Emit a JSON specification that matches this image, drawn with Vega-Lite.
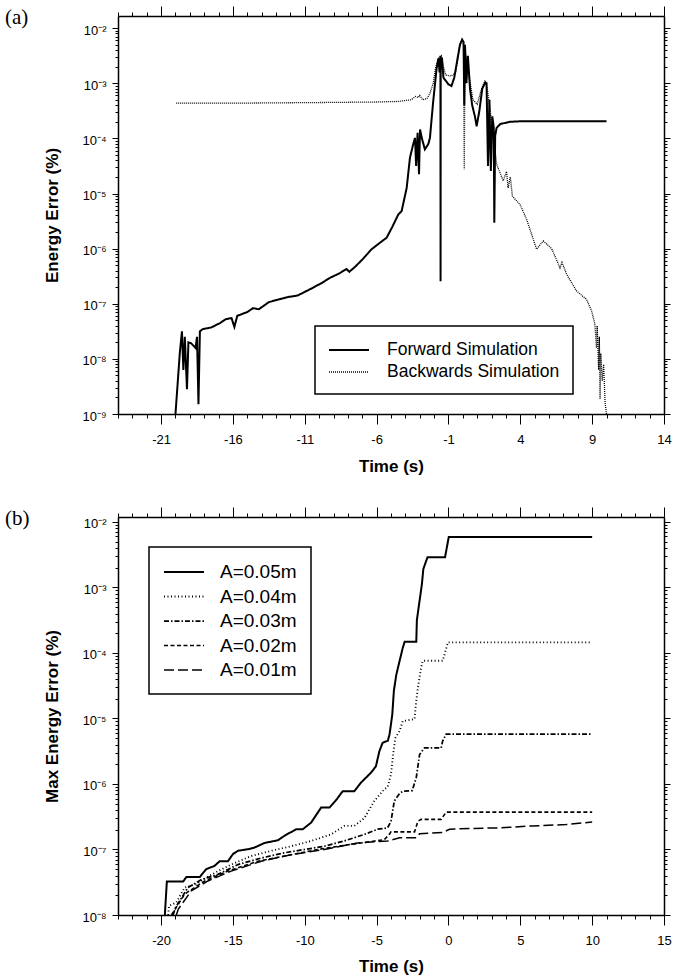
{
  "$schema": "https://vega.github.io/schema/vega-lite/v6.json",
  "background": "white",
  "padding": {"left": 5, "top": 5, "right": 5, "bottom": 5},
  "spacing": 103,
  "bounds": "flush",
  "resolve": {"scale": {"strokeDash": "independent", "strokeWidth": "independent"}, "legend": {"strokeDash": "independent", "strokeWidth": "independent"}},
  "config": {
    "view": {"stroke": null},
    "font": "Liberation Sans",
    "axis": {"domainColor": "black", "domainWidth": 1.5, "tickColor": "black", "tickWidth": 1, "labelColor": "black", "titleColor": "black", "grid": false, "labelFont": "Liberation Sans", "titleFont": "Liberation Sans", "labelOverlap": false, "labelFlush": false, "labelBound": false},
    "legend": {"strokeWidth": 1.5}
  },
  "vconcat": [
    {
      "width": 546,
      "height": 398,
      "title": {"text": "(a)", "anchor": "start", "frame": "group", "font": "Liberation Serif", "fontSize": 21, "fontWeight": "normal", "color": "black", "dx": -113, "dy": 22, "offset": 0},
      "data": {"values": [
        {"t": -20.0, "e": 1e-9, "s": "Forward Simulation"},
        {"t": -19.7, "e": 1.26e-8, "s": "Forward Simulation"},
        {"t": -19.55, "e": 3.16e-8, "s": "Forward Simulation"},
        {"t": -19.45, "e": 6.31e-9, "s": "Forward Simulation"},
        {"t": -19.35, "e": 2.51e-8, "s": "Forward Simulation"},
        {"t": -19.2, "e": 2.82e-9, "s": "Forward Simulation"},
        {"t": -19.1, "e": 2.0e-8, "s": "Forward Simulation"},
        {"t": -18.9, "e": 1.91e-8, "s": "Forward Simulation"},
        {"t": -18.6, "e": 1.58e-8, "s": "Forward Simulation"},
        {"t": -18.5, "e": 2.51e-8, "s": "Forward Simulation"},
        {"t": -18.4, "e": 1.51e-9, "s": "Forward Simulation"},
        {"t": -18.3, "e": 3.16e-8, "s": "Forward Simulation"},
        {"t": -18.1, "e": 3.47e-8, "s": "Forward Simulation"},
        {"t": -17.5, "e": 3.72e-8, "s": "Forward Simulation"},
        {"t": -16.9, "e": 4.47e-8, "s": "Forward Simulation"},
        {"t": -16.5, "e": 5.25e-8, "s": "Forward Simulation"},
        {"t": -16.1, "e": 5.5e-8, "s": "Forward Simulation"},
        {"t": -15.9, "e": 3.8e-8, "s": "Forward Simulation"},
        {"t": -15.7, "e": 6.03e-8, "s": "Forward Simulation"},
        {"t": -15.0, "e": 7.08e-8, "s": "Forward Simulation"},
        {"t": -14.6, "e": 8.32e-8, "s": "Forward Simulation"},
        {"t": -14.2, "e": 7.94e-8, "s": "Forward Simulation"},
        {"t": -13.5, "e": 1.07e-7, "s": "Forward Simulation"},
        {"t": -12.8, "e": 1.2e-7, "s": "Forward Simulation"},
        {"t": -12.2, "e": 1.32e-7, "s": "Forward Simulation"},
        {"t": -11.5, "e": 1.41e-7, "s": "Forward Simulation"},
        {"t": -10.5, "e": 1.91e-7, "s": "Forward Simulation"},
        {"t": -9.8, "e": 2.4e-7, "s": "Forward Simulation"},
        {"t": -9.25, "e": 2.95e-7, "s": "Forward Simulation"},
        {"t": -8.6, "e": 3.55e-7, "s": "Forward Simulation"},
        {"t": -8.1, "e": 4.27e-7, "s": "Forward Simulation"},
        {"t": -7.9, "e": 3.8e-7, "s": "Forward Simulation"},
        {"t": -7.5, "e": 4.68e-7, "s": "Forward Simulation"},
        {"t": -7.0, "e": 6.31e-7, "s": "Forward Simulation"},
        {"t": -6.35, "e": 9.77e-7, "s": "Forward Simulation"},
        {"t": -5.7, "e": 1.32e-6, "s": "Forward Simulation"},
        {"t": -5.3, "e": 1.58e-6, "s": "Forward Simulation"},
        {"t": -4.9, "e": 2.51e-6, "s": "Forward Simulation"},
        {"t": -4.49, "e": 4.17e-6, "s": "Forward Simulation"},
        {"t": -4.26, "e": 4.79e-6, "s": "Forward Simulation"},
        {"t": -3.91, "e": 1.26e-5, "s": "Forward Simulation"},
        {"t": -3.68, "e": 4.47e-5, "s": "Forward Simulation"},
        {"t": -3.45, "e": 7.94e-5, "s": "Forward Simulation"},
        {"t": -3.33, "e": 1.02e-4, "s": "Forward Simulation"},
        {"t": -3.25, "e": 3.16e-5, "s": "Forward Simulation"},
        {"t": -3.15, "e": 1.26e-4, "s": "Forward Simulation"},
        {"t": -3.05, "e": 2.24e-5, "s": "Forward Simulation"},
        {"t": -2.98, "e": 1.45e-4, "s": "Forward Simulation"},
        {"t": -2.85, "e": 1e-4, "s": "Forward Simulation"},
        {"t": -2.64, "e": 6.31e-5, "s": "Forward Simulation"},
        {"t": -2.4, "e": 7.94e-5, "s": "Forward Simulation"},
        {"t": -2.29, "e": 1.02e-4, "s": "Forward Simulation"},
        {"t": -2.06, "e": 4.79e-4, "s": "Forward Simulation"},
        {"t": -1.82, "e": 1.91e-3, "s": "Forward Simulation"},
        {"t": -1.7, "e": 2.82e-3, "s": "Forward Simulation"},
        {"t": -1.62, "e": 1.58e-3, "s": "Forward Simulation"},
        {"t": -1.56, "e": 3.16e-3, "s": "Forward Simulation"},
        {"t": -1.55, "e": 2.57e-7, "s": "Forward Simulation"},
        {"t": -1.54, "e": 2.82e-3, "s": "Forward Simulation"},
        {"t": -1.45, "e": 2.82e-3, "s": "Forward Simulation"},
        {"t": -1.35, "e": 1.26e-3, "s": "Forward Simulation"},
        {"t": -1.2, "e": 1.12e-3, "s": "Forward Simulation"},
        {"t": -1.0, "e": 9.55e-4, "s": "Forward Simulation"},
        {"t": -0.79, "e": 8.91e-4, "s": "Forward Simulation"},
        {"t": -0.6, "e": 1.26e-3, "s": "Forward Simulation"},
        {"t": -0.4, "e": 2.51e-3, "s": "Forward Simulation"},
        {"t": -0.2, "e": 5.01e-3, "s": "Forward Simulation"},
        {"t": -0.05, "e": 6.17e-3, "s": "Forward Simulation"},
        {"t": 0.05, "e": 5.62e-3, "s": "Forward Simulation"},
        {"t": 0.1, "e": 3.98e-4, "s": "Forward Simulation"},
        {"t": 0.15, "e": 5.01e-3, "s": "Forward Simulation"},
        {"t": 0.25, "e": 1e-3, "s": "Forward Simulation"},
        {"t": 0.35, "e": 3.16e-3, "s": "Forward Simulation"},
        {"t": 0.5, "e": 7.94e-4, "s": "Forward Simulation"},
        {"t": 0.65, "e": 3.98e-4, "s": "Forward Simulation"},
        {"t": 0.84, "e": 2.51e-4, "s": "Forward Simulation"},
        {"t": 0.96, "e": 1.66e-4, "s": "Forward Simulation"},
        {"t": 1.15, "e": 3.16e-4, "s": "Forward Simulation"},
        {"t": 1.35, "e": 7.94e-4, "s": "Forward Simulation"},
        {"t": 1.55, "e": 1.02e-3, "s": "Forward Simulation"},
        {"t": 1.65, "e": 1e-3, "s": "Forward Simulation"},
        {"t": 1.75, "e": 3.16e-5, "s": "Forward Simulation"},
        {"t": 1.85, "e": 5.01e-4, "s": "Forward Simulation"},
        {"t": 1.95, "e": 2.57e-5, "s": "Forward Simulation"},
        {"t": 2.05, "e": 2.51e-4, "s": "Forward Simulation"},
        {"t": 2.15, "e": 1.58e-4, "s": "Forward Simulation"},
        {"t": 2.19, "e": 2.95e-6, "s": "Forward Simulation"},
        {"t": 2.25, "e": 1.12e-4, "s": "Forward Simulation"},
        {"t": 2.35, "e": 1.55e-4, "s": "Forward Simulation"},
        {"t": 2.6, "e": 1.82e-4, "s": "Forward Simulation"},
        {"t": 3.28, "e": 2.0e-4, "s": "Forward Simulation"},
        {"t": 4.0, "e": 2.04e-4, "s": "Forward Simulation"},
        {"t": 10.0, "e": 2.04e-4, "s": "Forward Simulation"},
        {"t": -19.95, "e": 4.37e-4, "s": "Backwards Simulation"},
        {"t": -15.0, "e": 4.37e-4, "s": "Backwards Simulation"},
        {"t": -10.0, "e": 4.47e-4, "s": "Backwards Simulation"},
        {"t": -6.0, "e": 4.57e-4, "s": "Backwards Simulation"},
        {"t": -4.5, "e": 4.68e-4, "s": "Backwards Simulation"},
        {"t": -3.6, "e": 5.01e-4, "s": "Backwards Simulation"},
        {"t": -3.3, "e": 5.75e-4, "s": "Backwards Simulation"},
        {"t": -3.1, "e": 5.5e-4, "s": "Backwards Simulation"},
        {"t": -3.0, "e": 6.03e-4, "s": "Backwards Simulation"},
        {"t": -2.8, "e": 5.01e-4, "s": "Backwards Simulation"},
        {"t": -2.5, "e": 5.25e-4, "s": "Backwards Simulation"},
        {"t": -2.29, "e": 6.61e-4, "s": "Backwards Simulation"},
        {"t": -2.06, "e": 1e-3, "s": "Backwards Simulation"},
        {"t": -1.9, "e": 1.91e-3, "s": "Backwards Simulation"},
        {"t": -1.7, "e": 2.82e-3, "s": "Backwards Simulation"},
        {"t": -1.5, "e": 3.16e-3, "s": "Backwards Simulation"},
        {"t": -1.35, "e": 2.0e-3, "s": "Backwards Simulation"},
        {"t": -1.2, "e": 1.41e-3, "s": "Backwards Simulation"},
        {"t": -0.8, "e": 1.35e-3, "s": "Backwards Simulation"},
        {"t": -0.5, "e": 1.58e-3, "s": "Backwards Simulation"},
        {"t": -0.2, "e": 5.01e-3, "s": "Backwards Simulation"},
        {"t": -0.05, "e": 6.17e-3, "s": "Backwards Simulation"},
        {"t": 0.05, "e": 5.01e-3, "s": "Backwards Simulation"},
        {"t": 0.1, "e": 2.75e-5, "s": "Backwards Simulation"},
        {"t": 0.15, "e": 3.98e-3, "s": "Backwards Simulation"},
        {"t": 0.4, "e": 1.58e-3, "s": "Backwards Simulation"},
        {"t": 0.7, "e": 5.01e-4, "s": "Backwards Simulation"},
        {"t": 1.0, "e": 4.17e-4, "s": "Backwards Simulation"},
        {"t": 1.3, "e": 7.94e-4, "s": "Backwards Simulation"},
        {"t": 1.55, "e": 1.12e-3, "s": "Backwards Simulation"},
        {"t": 1.7, "e": 7.94e-4, "s": "Backwards Simulation"},
        {"t": 1.9, "e": 3.16e-4, "s": "Backwards Simulation"},
        {"t": 2.1, "e": 1.26e-4, "s": "Backwards Simulation"},
        {"t": 2.35, "e": 3.39e-5, "s": "Backwards Simulation"},
        {"t": 2.81, "e": 1.7e-5, "s": "Backwards Simulation"},
        {"t": 3.04, "e": 2.51e-5, "s": "Backwards Simulation"},
        {"t": 3.15, "e": 1.26e-5, "s": "Backwards Simulation"},
        {"t": 3.3, "e": 2.0e-5, "s": "Backwards Simulation"},
        {"t": 3.45, "e": 8.91e-6, "s": "Backwards Simulation"},
        {"t": 3.98, "e": 6.31e-6, "s": "Backwards Simulation"},
        {"t": 4.44, "e": 3.39e-6, "s": "Backwards Simulation"},
        {"t": 5.13, "e": 9.77e-7, "s": "Backwards Simulation"},
        {"t": 5.6, "e": 1.38e-6, "s": "Backwards Simulation"},
        {"t": 6.18, "e": 1e-6, "s": "Backwards Simulation"},
        {"t": 6.6, "e": 5.62e-7, "s": "Backwards Simulation"},
        {"t": 6.76, "e": 4.47e-7, "s": "Backwards Simulation"},
        {"t": 6.9, "e": 5.62e-7, "s": "Backwards Simulation"},
        {"t": 7.23, "e": 3.39e-7, "s": "Backwards Simulation"},
        {"t": 7.92, "e": 1.7e-7, "s": "Backwards Simulation"},
        {"t": 8.61, "e": 1.2e-7, "s": "Backwards Simulation"},
        {"t": 8.96, "e": 7.41e-8, "s": "Backwards Simulation"},
        {"t": 9.19, "e": 4.27e-8, "s": "Backwards Simulation"},
        {"t": 9.3, "e": 1.58e-8, "s": "Backwards Simulation"},
        {"t": 9.35, "e": 3.98e-8, "s": "Backwards Simulation"},
        {"t": 9.45, "e": 6.31e-9, "s": "Backwards Simulation"},
        {"t": 9.5, "e": 2.51e-8, "s": "Backwards Simulation"},
        {"t": 9.55, "e": 1.86e-9, "s": "Backwards Simulation"},
        {"t": 9.6, "e": 1.26e-8, "s": "Backwards Simulation"},
        {"t": 9.7, "e": 3.98e-9, "s": "Backwards Simulation"},
        {"t": 9.8, "e": 7.94e-9, "s": "Backwards Simulation"},
        {"t": 9.9, "e": 1.58e-9, "s": "Backwards Simulation"},
        {"t": 10.0, "e": 1e-9, "s": "Backwards Simulation"}
      ]},
      "layer": [
        {
          "transform": [{"filter": "datum.s == 'Forward Simulation'"}],
          "mark": {"type": "line", "color": "black", "clip": true},
          "encoding": {
            "x": {"field": "t", "type": "quantitative", "scale": {"domain": [-24, 14], "nice": false, "zero": false},
              "axis": {"orient": "bottom", "values": [-24,-23,-22,-21,-20,-19,-18,-17,-16,-15,-14,-13,-12,-11,-10,-9,-8,-7,-6,-5,-4,-3,-2,-1,0,1,2,3,4,5,6,7,8,9,10,11,12,13,14],
                "labelExpr": "(datum.value+21)%5==0 ? ''+datum.value : ''",
                "tickSize": {"condition": {"test": "(datum.value+21)%5==0", "value": 10}, "value": 4},
                "labelFontSize": 13, "labelPadding": 9, "title": "Time (s)", "titleFontSize": 17, "titleFontWeight": "bold", "titlePadding": 12}},
            "y": {"field": "e", "type": "quantitative", "scale": {"type": "log", "domain": [1e-9, 0.0166], "nice": false},
              "axis": {"orient": "left", "values": [1e-9,2e-9,3e-9,4e-9,5e-9,6e-9,7e-9,8e-9,9e-9,1e-8,2e-8,3e-8,4e-8,5e-8,6e-8,7e-8,8e-8,9e-8,1e-7,2e-7,3e-7,4e-7,5e-7,6e-7,7e-7,8e-7,9e-7,1e-6,2e-6,3e-6,4e-6,5e-6,6e-6,7e-6,8e-6,9e-6,1e-5,2e-5,3e-5,4e-5,5e-5,6e-5,7e-5,8e-5,9e-5,1e-4,2e-4,3e-4,4e-4,5e-4,6e-4,7e-4,8e-4,9e-4,1e-3,2e-3,3e-3,4e-3,5e-3,6e-3,7e-3,8e-3,9e-3,1e-2],
                "labelExpr": "abs(log(datum.value)/LN10-round(log(datum.value)/LN10))<0.001 ? '10⁻' + ['⁰','¹','²','³','⁴','⁵','⁶','⁷','⁸','⁹'][-round(log(datum.value)/LN10)] : ''",
                "tickSize": {"condition": {"test": "abs(log(datum.value)/LN10-round(log(datum.value)/LN10))<0.001", "value": 6}, "value": 3},
                "labelFontSize": 13, "labelPadding": 6, "labelOffset": 2, "title": "Energy Error (%)", "titleFontSize": 17, "titleFontWeight": "bold", "titlePadding": 20}},
            "strokeDash": {"field": "s", "type": "nominal", "scale": {"domain": ["Forward Simulation", "Backwards Simulation"], "range": [[1, 0], [1, 1]]},
              "legend": {"orient": "none", "legendX": 197, "legendY": 310, "title": null, "strokeColor": "black", "fillColor": "white", "padding": 13, "symbolType": "M-1,0L3,0", "symbolSize": 400, "symbolStrokeColor": "black", "labelFontSize": 17.5, "labelFont": "Liberation Sans", "labelColor": "black", "labelLimit": 400, "labelOffset": 37, "rowPadding": 2, "labelExpr": "datum.label + '     '"}},
            "strokeWidth": {"field": "s", "type": "nominal", "scale": {"domain": ["Forward Simulation", "Backwards Simulation"], "range": [2, 1.3]},
              "legend": {"orient": "none", "legendX": 197, "legendY": 310, "title": null, "strokeColor": "black", "fillColor": "white", "padding": 13, "symbolType": "M-1,0L3,0", "symbolSize": 400, "symbolStrokeColor": "black", "labelFontSize": 17.5, "labelFont": "Liberation Sans", "labelColor": "black", "labelLimit": 400, "labelOffset": 37, "rowPadding": 2, "labelExpr": "datum.label + '     '"}}
          }
        },
        {
          "transform": [{"filter": "datum.s == 'Backwards Simulation'"}],
          "mark": {"type": "line", "color": "black", "clip": true},
          "encoding": {
            "x": {"field": "t", "type": "quantitative", "scale": {"domain": [-24, 14], "nice": false, "zero": false},
              "axis": {"orient": "top", "values": [-24,-23,-22,-21,-20,-19,-18,-17,-16,-15,-14,-13,-12,-11,-10,-9,-8,-7,-6,-5,-4,-3,-2,-1,0,1,2,3,4,5,6,7,8,9,10,11,12,13,14],
                "labels": false, "title": null,
                "tickSize": {"condition": {"test": "(datum.value+21)%5==0", "value": 10}, "value": 4}}},
            "y": {"field": "e", "type": "quantitative", "scale": {"type": "log", "domain": [1e-9, 0.0166], "nice": false},
              "axis": {"orient": "right", "values": [1e-9,2e-9,3e-9,4e-9,5e-9,6e-9,7e-9,8e-9,9e-9,1e-8,2e-8,3e-8,4e-8,5e-8,6e-8,7e-8,8e-8,9e-8,1e-7,2e-7,3e-7,4e-7,5e-7,6e-7,7e-7,8e-7,9e-7,1e-6,2e-6,3e-6,4e-6,5e-6,6e-6,7e-6,8e-6,9e-6,1e-5,2e-5,3e-5,4e-5,5e-5,6e-5,7e-5,8e-5,9e-5,1e-4,2e-4,3e-4,4e-4,5e-4,6e-4,7e-4,8e-4,9e-4,1e-3,2e-3,3e-3,4e-3,5e-3,6e-3,7e-3,8e-3,9e-3,1e-2],
                "labels": false, "title": null,
                "tickSize": {"condition": {"test": "abs(log(datum.value)/LN10-round(log(datum.value)/LN10))<0.001", "value": 6}, "value": 3}}},
            "strokeDash": {"field": "s", "type": "nominal", "scale": {"domain": ["Forward Simulation", "Backwards Simulation"], "range": [[1, 0], [1, 1]]}},
            "strokeWidth": {"field": "s", "type": "nominal", "scale": {"domain": ["Forward Simulation", "Backwards Simulation"], "range": [2, 1.3]}}
          }
        }
      ],
      "resolve": {"axis": {"x": "independent", "y": "independent"}}
    },
    {
      "width": 546,
      "height": 398,
      "title": {"text": "(b)", "anchor": "start", "frame": "group", "font": "Liberation Serif", "fontSize": 21, "fontWeight": "normal", "color": "black", "dx": -113, "dy": 22, "offset": 0},
      "data": {"values": [
        {"t": -19.74, "e": 1e-8, "s": "A=0.05m"},
        {"t": -19.6, "e": 3.24e-8, "s": "A=0.05m"},
        {"t": -18.47, "e": 3.24e-8, "s": "A=0.05m"},
        {"t": -18.24, "e": 3.8e-8, "s": "A=0.05m"},
        {"t": -17.31, "e": 3.8e-8, "s": "A=0.05m"},
        {"t": -16.86, "e": 5.01e-8, "s": "A=0.05m"},
        {"t": -16.28, "e": 5.62e-8, "s": "A=0.05m"},
        {"t": -15.93, "e": 6.61e-8, "s": "A=0.05m"},
        {"t": -15.35, "e": 6.61e-8, "s": "A=0.05m"},
        {"t": -15.0, "e": 8.51e-8, "s": "A=0.05m"},
        {"t": -14.65, "e": 9.55e-8, "s": "A=0.05m"},
        {"t": -13.84, "e": 1.02e-7, "s": "A=0.05m"},
        {"t": -13.5, "e": 1.07e-7, "s": "A=0.05m"},
        {"t": -12.8, "e": 1.26e-7, "s": "A=0.05m"},
        {"t": -11.88, "e": 1.38e-7, "s": "A=0.05m"},
        {"t": -11.41, "e": 1.62e-7, "s": "A=0.05m"},
        {"t": -10.6, "e": 2.04e-7, "s": "A=0.05m"},
        {"t": -10.14, "e": 2.04e-7, "s": "A=0.05m"},
        {"t": -9.56, "e": 2.57e-7, "s": "A=0.05m"},
        {"t": -8.86, "e": 4.37e-7, "s": "A=0.05m"},
        {"t": -8.28, "e": 4.37e-7, "s": "A=0.05m"},
        {"t": -7.8, "e": 5.75e-7, "s": "A=0.05m"},
        {"t": -7.36, "e": 7.76e-7, "s": "A=0.05m"},
        {"t": -6.55, "e": 7.76e-7, "s": "A=0.05m"},
        {"t": -6.09, "e": 1.05e-6, "s": "A=0.05m"},
        {"t": -5.4, "e": 1.48e-6, "s": "A=0.05m"},
        {"t": -5.05, "e": 1.86e-6, "s": "A=0.05m"},
        {"t": -4.81, "e": 3.16e-6, "s": "A=0.05m"},
        {"t": -4.58, "e": 4.27e-6, "s": "A=0.05m"},
        {"t": -4.22, "e": 4.57e-6, "s": "A=0.05m"},
        {"t": -4.1, "e": 5.75e-6, "s": "A=0.05m"},
        {"t": -3.91, "e": 1.15e-5, "s": "A=0.05m"},
        {"t": -3.8, "e": 2.63e-5, "s": "A=0.05m"},
        {"t": -3.63, "e": 4.68e-5, "s": "A=0.05m"},
        {"t": -3.4, "e": 7.59e-5, "s": "A=0.05m"},
        {"t": -3.18, "e": 1.2e-4, "s": "A=0.05m"},
        {"t": -3.05, "e": 1.48e-4, "s": "A=0.05m"},
        {"t": -2.24, "e": 1.48e-4, "s": "A=0.05m"},
        {"t": -2.2, "e": 3.16e-4, "s": "A=0.05m"},
        {"t": -2.01, "e": 6.31e-4, "s": "A=0.05m"},
        {"t": -1.85, "e": 1.12e-3, "s": "A=0.05m"},
        {"t": -1.75, "e": 1.91e-3, "s": "A=0.05m"},
        {"t": -1.56, "e": 2.51e-3, "s": "A=0.05m"},
        {"t": -1.46, "e": 2.88e-3, "s": "A=0.05m"},
        {"t": -0.24, "e": 2.88e-3, "s": "A=0.05m"},
        {"t": 0.02, "e": 5.89e-3, "s": "A=0.05m"},
        {"t": 10.0, "e": 5.89e-3, "s": "A=0.05m"},
        {"t": -19.51, "e": 1e-8, "s": "A=0.04m"},
        {"t": -19.45, "e": 1.38e-8, "s": "A=0.04m"},
        {"t": -18.94, "e": 1.55e-8, "s": "A=0.04m"},
        {"t": -18.36, "e": 2.63e-8, "s": "A=0.04m"},
        {"t": -17.55, "e": 2.95e-8, "s": "A=0.04m"},
        {"t": -16.86, "e": 3.72e-8, "s": "A=0.04m"},
        {"t": -16.04, "e": 4.68e-8, "s": "A=0.04m"},
        {"t": -15.12, "e": 5.89e-8, "s": "A=0.04m"},
        {"t": -13.73, "e": 7.94e-8, "s": "A=0.04m"},
        {"t": -12.34, "e": 9.55e-8, "s": "A=0.04m"},
        {"t": -10.95, "e": 1.12e-7, "s": "A=0.04m"},
        {"t": -9.56, "e": 1.35e-7, "s": "A=0.04m"},
        {"t": -8.17, "e": 1.7e-7, "s": "A=0.04m"},
        {"t": -7.25, "e": 2.29e-7, "s": "A=0.04m"},
        {"t": -6.55, "e": 2.29e-7, "s": "A=0.04m"},
        {"t": -5.85, "e": 3.02e-7, "s": "A=0.04m"},
        {"t": -5.16, "e": 5.5e-7, "s": "A=0.04m"},
        {"t": -4.47, "e": 8.32e-7, "s": "A=0.04m"},
        {"t": -4.24, "e": 8.91e-7, "s": "A=0.04m"},
        {"t": -4.0, "e": 1.41e-6, "s": "A=0.04m"},
        {"t": -3.85, "e": 2.82e-6, "s": "A=0.04m"},
        {"t": -3.7, "e": 5.01e-6, "s": "A=0.04m"},
        {"t": -3.4, "e": 6.46e-6, "s": "A=0.04m"},
        {"t": -3.18, "e": 9.12e-6, "s": "A=0.04m"},
        {"t": -2.36, "e": 9.77e-6, "s": "A=0.04m"},
        {"t": -2.29, "e": 1.48e-5, "s": "A=0.04m"},
        {"t": -2.13, "e": 2.95e-5, "s": "A=0.04m"},
        {"t": -1.9, "e": 6.03e-5, "s": "A=0.04m"},
        {"t": -1.79, "e": 7.59e-5, "s": "A=0.04m"},
        {"t": -0.4, "e": 7.59e-5, "s": "A=0.04m"},
        {"t": -0.04, "e": 1.45e-4, "s": "A=0.04m"},
        {"t": 10.0, "e": 1.45e-4, "s": "A=0.04m"},
        {"t": -19.17, "e": 1e-8, "s": "A=0.03m"},
        {"t": -19.0, "e": 1.29e-8, "s": "A=0.03m"},
        {"t": -18.13, "e": 2.63e-8, "s": "A=0.03m"},
        {"t": -17.2, "e": 3.47e-8, "s": "A=0.03m"},
        {"t": -16.04, "e": 4.17e-8, "s": "A=0.03m"},
        {"t": -14.65, "e": 5.89e-8, "s": "A=0.03m"},
        {"t": -13.03, "e": 7.41e-8, "s": "A=0.03m"},
        {"t": -11.41, "e": 8.91e-8, "s": "A=0.03m"},
        {"t": -10.02, "e": 1e-7, "s": "A=0.03m"},
        {"t": -8.64, "e": 1.12e-7, "s": "A=0.03m"},
        {"t": -7.25, "e": 1.35e-7, "s": "A=0.03m"},
        {"t": -5.85, "e": 1.7e-7, "s": "A=0.03m"},
        {"t": -4.93, "e": 2.04e-7, "s": "A=0.03m"},
        {"t": -4.24, "e": 2.14e-7, "s": "A=0.03m"},
        {"t": -4.0, "e": 2.69e-7, "s": "A=0.03m"},
        {"t": -3.77, "e": 5.5e-7, "s": "A=0.03m"},
        {"t": -3.42, "e": 7.08e-7, "s": "A=0.03m"},
        {"t": -3.18, "e": 7.76e-7, "s": "A=0.03m"},
        {"t": -2.52, "e": 7.94e-7, "s": "A=0.03m"},
        {"t": -2.24, "e": 1.26e-6, "s": "A=0.03m"},
        {"t": -2.01, "e": 2.82e-6, "s": "A=0.03m"},
        {"t": -1.67, "e": 3.55e-6, "s": "A=0.03m"},
        {"t": -0.51, "e": 3.55e-6, "s": "A=0.03m"},
        {"t": -0.4, "e": 4.57e-6, "s": "A=0.03m"},
        {"t": -0.16, "e": 5.75e-6, "s": "A=0.03m"},
        {"t": 10.0, "e": 5.75e-6, "s": "A=0.03m"},
        {"t": -19.28, "e": 1e-8, "s": "A=0.02m"},
        {"t": -18.36, "e": 2.09e-8, "s": "A=0.02m"},
        {"t": -16.96, "e": 3.31e-8, "s": "A=0.02m"},
        {"t": -15.35, "e": 4.68e-8, "s": "A=0.02m"},
        {"t": -13.26, "e": 6.61e-8, "s": "A=0.02m"},
        {"t": -11.41, "e": 7.94e-8, "s": "A=0.02m"},
        {"t": -9.1, "e": 1e-7, "s": "A=0.02m"},
        {"t": -6.78, "e": 1.2e-7, "s": "A=0.02m"},
        {"t": -4.47, "e": 1.41e-7, "s": "A=0.02m"},
        {"t": -4.12, "e": 1.7e-7, "s": "A=0.02m"},
        {"t": -4.0, "e": 1.86e-7, "s": "A=0.02m"},
        {"t": -2.36, "e": 1.86e-7, "s": "A=0.02m"},
        {"t": -2.13, "e": 2.69e-7, "s": "A=0.02m"},
        {"t": -1.9, "e": 2.88e-7, "s": "A=0.02m"},
        {"t": -0.51, "e": 2.88e-7, "s": "A=0.02m"},
        {"t": -0.16, "e": 3.72e-7, "s": "A=0.02m"},
        {"t": 10.0, "e": 3.72e-7, "s": "A=0.02m"},
        {"t": -18.94, "e": 1e-8, "s": "A=0.01m"},
        {"t": -18.8, "e": 1.23e-8, "s": "A=0.01m"},
        {"t": -17.9, "e": 2.34e-8, "s": "A=0.01m"},
        {"t": -16.74, "e": 3.31e-8, "s": "A=0.01m"},
        {"t": -15.12, "e": 4.68e-8, "s": "A=0.01m"},
        {"t": -13.03, "e": 6.61e-8, "s": "A=0.01m"},
        {"t": -10.95, "e": 8.32e-8, "s": "A=0.01m"},
        {"t": -8.64, "e": 1e-7, "s": "A=0.01m"},
        {"t": -6.32, "e": 1.26e-7, "s": "A=0.01m"},
        {"t": -4.24, "e": 1.35e-7, "s": "A=0.01m"},
        {"t": -3.4, "e": 1.51e-7, "s": "A=0.01m"},
        {"t": -2.24, "e": 1.51e-7, "s": "A=0.01m"},
        {"t": -2.01, "e": 1.74e-7, "s": "A=0.01m"},
        {"t": -0.4, "e": 1.82e-7, "s": "A=0.01m"},
        {"t": 0.07, "e": 2.04e-7, "s": "A=0.01m"},
        {"t": 1.46, "e": 2.09e-7, "s": "A=0.01m"},
        {"t": 3.54, "e": 2.14e-7, "s": "A=0.01m"},
        {"t": 5.85, "e": 2.29e-7, "s": "A=0.01m"},
        {"t": 8.17, "e": 2.4e-7, "s": "A=0.01m"},
        {"t": 10.0, "e": 2.63e-7, "s": "A=0.01m"}
      ]},
      "layer": [
        {
          "transform": [{"filter": "datum.s == 'A=0.05m'"}],
          "mark": {"type": "line", "color": "black", "clip": true},
          "encoding": {
            "x": {"field": "t", "type": "quantitative", "scale": {"domain": [-23, 15], "nice": false, "zero": false},
              "axis": {"orient": "bottom", "values": [-23,-22,-21,-20,-19,-18,-17,-16,-15,-14,-13,-12,-11,-10,-9,-8,-7,-6,-5,-4,-3,-2,-1,0,1,2,3,4,5,6,7,8,9,10,11,12,13,14,15],
                "labelExpr": "datum.value%5==0 ? ''+datum.value : ''",
                "tickSize": {"condition": {"test": "datum.value%5==0", "value": 10}, "value": 4},
                "labelFontSize": 13, "labelPadding": 9, "title": "Time (s)", "titleFontSize": 17, "titleFontWeight": "bold", "titlePadding": 11}},
            "y": {"field": "e", "type": "quantitative", "scale": {"type": "log", "domain": [1e-8, 0.0119], "nice": false},
              "axis": {"orient": "left", "values": [1e-8,2e-8,3e-8,4e-8,5e-8,6e-8,7e-8,8e-8,9e-8,1e-7,2e-7,3e-7,4e-7,5e-7,6e-7,7e-7,8e-7,9e-7,1e-6,2e-6,3e-6,4e-6,5e-6,6e-6,7e-6,8e-6,9e-6,1e-5,2e-5,3e-5,4e-5,5e-5,6e-5,7e-5,8e-5,9e-5,1e-4,2e-4,3e-4,4e-4,5e-4,6e-4,7e-4,8e-4,9e-4,1e-3,2e-3,3e-3,4e-3,5e-3,6e-3,7e-3,8e-3,9e-3,1e-2],
                "labelExpr": "abs(log(datum.value)/LN10-round(log(datum.value)/LN10))<0.001 ? '10⁻' + ['⁰','¹','²','³','⁴','⁵','⁶','⁷','⁸','⁹'][-round(log(datum.value)/LN10)] : ''",
                "tickSize": {"condition": {"test": "abs(log(datum.value)/LN10-round(log(datum.value)/LN10))<0.001", "value": 6}, "value": 3},
                "labelFontSize": 13, "labelPadding": 6, "labelOffset": 2, "title": "Max Energy Error (%)", "titleFontSize": 17, "titleFontWeight": "bold", "titlePadding": 20}},
            "strokeDash": {"field": "s", "type": "nominal", "scale": {"domain": ["A=0.05m", "A=0.04m", "A=0.03m", "A=0.02m", "A=0.01m"], "range": [[1, 0], [1, 2.5], [5, 2, 1.5, 2], [4, 2.5], [10, 4]]},
              "legend": {"orient": "none", "legendX": 31, "legendY": 30, "title": null, "strokeColor": "black", "fillColor": "white", "padding": 14, "symbolType": "M-1,0L3,0", "symbolSize": 400, "symbolStrokeColor": "black", "labelFontSize": 19, "labelFont": "Liberation Sans", "labelColor": "black", "labelLimit": 400, "labelOffset": 35, "rowPadding": 3.5, "labelExpr": "datum.label + ' '"}},
            "strokeWidth": {"field": "s", "type": "nominal", "scale": {"domain": ["A=0.05m", "A=0.04m", "A=0.03m", "A=0.02m", "A=0.01m"], "range": [2, 1.5, 1.5, 1.5, 2]},
              "legend": {"orient": "none", "legendX": 31, "legendY": 30, "title": null, "strokeColor": "black", "fillColor": "white", "padding": 14, "symbolType": "M-1,0L3,0", "symbolSize": 400, "symbolStrokeColor": "black", "labelFontSize": 19, "labelFont": "Liberation Sans", "labelColor": "black", "labelLimit": 400, "labelOffset": 35, "rowPadding": 3.5, "labelExpr": "datum.label + ' '"}}
          }
        },
        {
          "transform": [{"filter": "datum.s != 'A=0.05m'"}],
          "mark": {"type": "line", "color": "black", "clip": true},
          "encoding": {
            "x": {"field": "t", "type": "quantitative", "scale": {"domain": [-23, 15], "nice": false, "zero": false},
              "axis": {"orient": "top", "values": [-23,-22,-21,-20,-19,-18,-17,-16,-15,-14,-13,-12,-11,-10,-9,-8,-7,-6,-5,-4,-3,-2,-1,0,1,2,3,4,5,6,7,8,9,10,11,12,13,14,15],
                "labels": false, "title": null,
                "tickSize": {"condition": {"test": "datum.value%5==0", "value": 10}, "value": 4}}},
            "y": {"field": "e", "type": "quantitative", "scale": {"type": "log", "domain": [1e-8, 0.0119], "nice": false},
              "axis": {"orient": "right", "values": [1e-8,2e-8,3e-8,4e-8,5e-8,6e-8,7e-8,8e-8,9e-8,1e-7,2e-7,3e-7,4e-7,5e-7,6e-7,7e-7,8e-7,9e-7,1e-6,2e-6,3e-6,4e-6,5e-6,6e-6,7e-6,8e-6,9e-6,1e-5,2e-5,3e-5,4e-5,5e-5,6e-5,7e-5,8e-5,9e-5,1e-4,2e-4,3e-4,4e-4,5e-4,6e-4,7e-4,8e-4,9e-4,1e-3,2e-3,3e-3,4e-3,5e-3,6e-3,7e-3,8e-3,9e-3,1e-2],
                "labels": false, "title": null,
                "tickSize": {"condition": {"test": "abs(log(datum.value)/LN10-round(log(datum.value)/LN10))<0.001", "value": 6}, "value": 3}}},
            "strokeDash": {"field": "s", "type": "nominal", "scale": {"domain": ["A=0.05m", "A=0.04m", "A=0.03m", "A=0.02m", "A=0.01m"], "range": [[1, 0], [1, 2.5], [5, 2, 1.5, 2], [4, 2.5], [10, 4]]}},
            "strokeWidth": {"field": "s", "type": "nominal", "scale": {"domain": ["A=0.05m", "A=0.04m", "A=0.03m", "A=0.02m", "A=0.01m"], "range": [2, 1.5, 1.5, 1.5, 2]}}
          }
        }
      ],
      "resolve": {"axis": {"x": "independent", "y": "independent"}}
    }
  ]
}
